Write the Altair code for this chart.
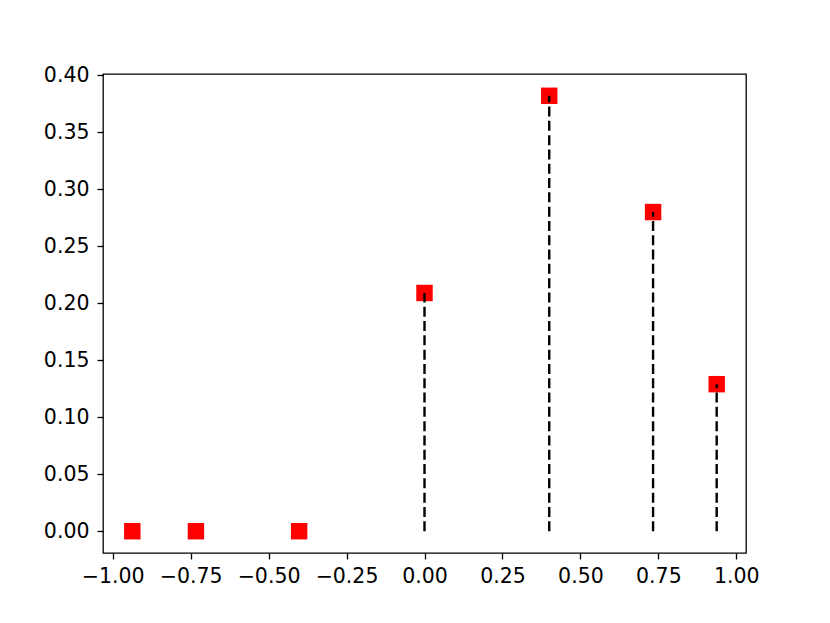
import altair as alt
import pandas as pd

x_vals = [-0.937, -0.733, -0.402, 0.0, 0.400, 0.733, 0.937]
y_vals = [0.0, 0.0, 0.0, 0.209, 0.382, 0.280, 0.129]
x_ticks = [-1.0, -0.75, -0.5, -0.25, 0.0, 0.25, 0.5, 0.75, 1.0]
y_ticks = [0.0, 0.05, 0.10, 0.15, 0.20, 0.25, 0.30, 0.35, 0.40]

df = pd.DataFrame({"x": x_vals, "y": y_vals, "base": [0.0] * len(x_vals)})

FONT = "DejaVu Sans"
FS = 20.5

xscale = alt.Scale(domain=[-1.031, 1.031], nice=False, zero=False)
yscale = alt.Scale(domain=[-0.0191, 0.4011], nice=False, zero=False)

xaxis = alt.Axis(values=x_ticks, format=".2f", title=None, grid=False,
                 tickSize=6, tickWidth=1.3, tickColor="black", labelFont=FONT,
                 labelFontSize=FS, labelColor="black", labelPadding=7,
                 domain=False, labelFlush=False)
yaxis = alt.Axis(values=y_ticks, format=".2f", title=None, grid=False,
                 tickSize=6, tickWidth=1.3, tickColor="black", labelFont=FONT,
                 labelFontSize=FS, labelColor="black", labelPadding=8,
                 domain=False)

points = alt.Chart(df).mark_point(shape="square", filled=True, color="red",
                                  size=270, opacity=1).encode(
    x=alt.X("x:Q", scale=xscale, axis=xaxis),
    y=alt.Y("y:Q", scale=yscale, axis=yaxis),
)

stems = alt.Chart(df).mark_rule(color="black", strokeWidth=2.4,
                                strokeDash=[10, 4.3]).encode(
    x=alt.X("x:Q", scale=xscale),
    y=alt.Y("base:Q", scale=yscale),
    y2="y:Q",
)

chart = alt.layer(points, stems).properties(
    width=643, height=479,
    autosize=alt.AutoSizeParams(type="none"),
    padding={"left": 95, "top": 66, "right": 70, "bottom": 60},
    background="white",
).configure_view(stroke="black", strokeWidth=1.3)

chart.save("out.html", embed_options={"renderer": "svg", "actions": False})
